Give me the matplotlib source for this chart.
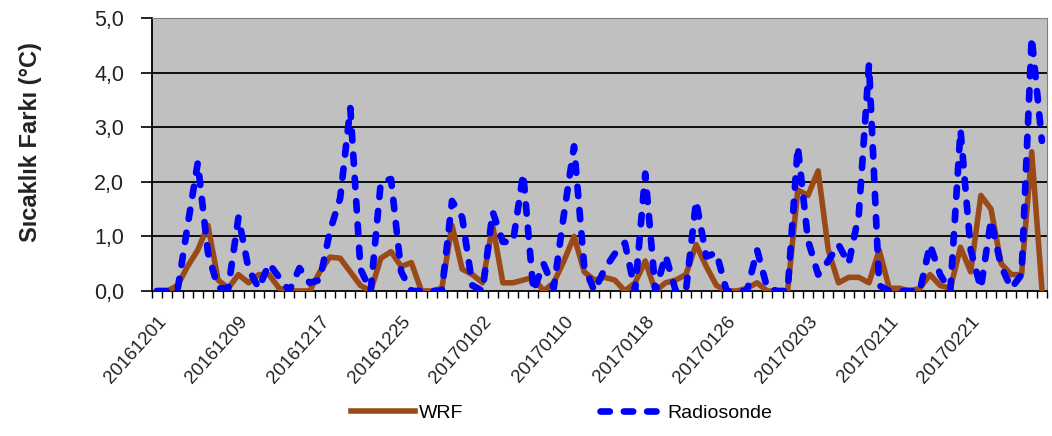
import numpy as np
import pandas as pd
import matplotlib
matplotlib.use('Agg')
import matplotlib.pyplot as plt

plt.rcParams['font.family'] = ['Liberation Sans', 'DejaVu Sans']

# daily categories, two days missing in February
dates = pd.date_range('2016-12-01', '2017-02-28', freq='D')
dates = dates.drop(pd.to_datetime(['2017-02-15', '2017-02-16']))
date_labels = list(dates.strftime('%Y%m%d'))

wrf = [0.0, 0.0, 0.1, 0.45, 0.75, 1.2, 0.2, 0.05, 0.3, 0.15,
       0.3, 0.3, 0.05, 0.0, 0.0, 0.0, 0.35, 0.62, 0.6, 0.35,
       0.1, 0.0, 0.6, 0.72, 0.45, 0.52, 0.0, 0.0, 0.05, 1.2,
       0.4, 0.3, 0.15, 1.2, 0.15, 0.15, 0.2, 0.25, 0.0, 0.15,
       0.55, 1.0, 0.35, 0.2, 0.25, 0.2, 0.0, 0.15, 0.55, 0.0,
       0.15, 0.2, 0.3, 0.85, 0.45, 0.1, 0.0, 0.0, 0.05, 0.15,
       0.0, 0.0, 0.0, 1.85, 1.75, 2.2, 0.75, 0.15, 0.25, 0.25,
       0.15, 0.75, 0.05, 0.05, 0.0, 0.05, 0.3, 0.1, 0.05, 0.8,
       0.35, 1.75, 1.5, 0.5, 0.3, 0.3, 2.55, 0.05]

radiosonde = [0.0, 0.0, 0.0, 1.2, 2.35, 0.7, 0.05, 0.05, 1.35, 0.4,
              0.05, 0.5, 0.25, 0.0, 0.42, 0.15, 0.2, 1.1, 1.7, 3.35,
              0.4, 0.0, 2.0, 2.05, 0.35, 0.0, 0.0, 0.0, 0.0, 1.65,
              1.35, 0.1, 0.0, 1.45, 0.9, 0.9, 2.15, 0.0, 0.5, 0.05,
              1.4, 2.65, 0.45, 0.0, 0.4, 0.68, 0.88, 0.0, 2.15, 0.0,
              0.65, 0.0, 0.0, 1.65, 0.63, 0.7, 0.0, 0.0, 0.0, 0.75,
              0.05, 0.0, 0.0, 2.65, 0.93, 0.3, 0.55, 0.85, 0.5, 1.4,
              4.15, 0.1, 0.0, 0.0, 0.0, 0.0, 0.85, 0.3, 0.0, 2.95,
              0.75, 0.05, 1.3, 0.45, 0.05, 0.3, 4.65, 2.75]

yticks = [0, 1, 2, 3, 4, 5]
ytick_labels = ['0,0', '1,0', '2,0', '3,0', '4,0', '5,0']

fig = plt.figure(figsize=(10.52, 4.36), dpi=100)
ax = fig.add_axes([0.1445, 0.3326, 0.8507, 0.6261])
ax.set_facecolor('#c0c0c0')

x = np.arange(len(date_labels))
for yv in yticks[1:-1]:
    ax.axhline(yv, color='black', lw=1.3, zorder=1)

ax.plot(x, wrf, color='#9a4a18', lw=4.0, label='WRF', zorder=3)
ax.plot(x, radiosonde, color='#0000ff', lw=4.8, linestyle=(0, (1.4, 2.1)),
        dash_capstyle='round', label='Radiosonde', zorder=4)

ax.set_xlim(-0.5, len(x) - 0.5)
ax.set_ylim(0, 5)
ax.set_yticks(yticks)
ax.set_yticklabels(ytick_labels, fontsize=15.5, color='#222222')
ax.tick_params(axis='y', length=8, width=1.2, direction='out', pad=12)

lab_idx = x[::8]
ax.set_xticks(lab_idx)
ax.set_xticklabels([date_labels[i] for i in lab_idx], rotation=48,
                   ha='right', rotation_mode='anchor', fontsize=13.5,
                   color='#222222')
ax.set_xticks(np.arange(len(x) + 1) - 0.5, minor=True)
ax.tick_params(axis='x', which='major', length=0, pad=16)
ax.tick_params(axis='x', which='minor', length=5, width=1.0, direction='out')

ax.spines['left'].set_color('black')
ax.spines['left'].set_linewidth(1.3)
ax.spines['bottom'].set_color('black')
ax.spines['bottom'].set_linewidth(1.3)
ax.spines['top'].set_color('#808080')
ax.spines['right'].set_color('#808080')

fig.text(31 / 1052, 1 - 142 / 436, 'Sıcaklık Farkı (°C)', rotation=90,
         ha='center', va='center', fontsize=17, fontweight='bold',
         color='#222222')

fig.legend(loc='center', bbox_to_anchor=(562 / 1052, 1 - 413 / 436), ncol=2,
           frameon=False, fontsize=14, handlelength=3.3, handletextpad=0.2,
           columnspacing=7.0)

fig.savefig('out.png', dpi=100)
